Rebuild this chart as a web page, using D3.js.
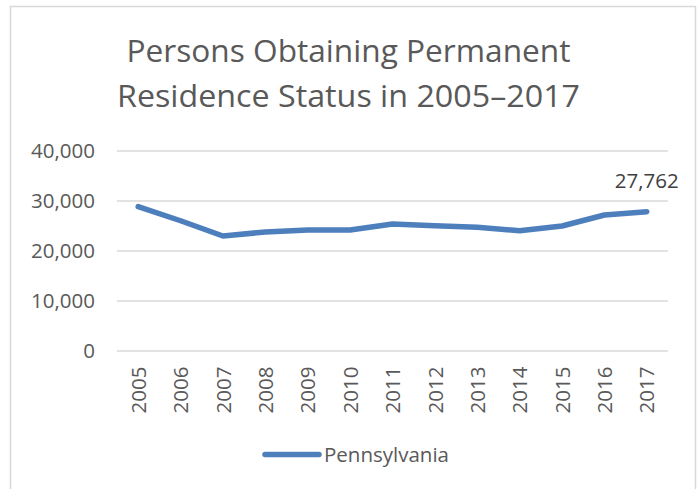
<!DOCTYPE html>
<html>
<head>
<meta charset="utf-8">
<script src="https://cdn.jsdelivr.net/npm/d3@7"></script>
<style>
  body { margin: 0; background: #fff; }
  svg { display: block; font-family: "Open Sans", "Noto Sans", sans-serif; }
</style>
</head>
<body>
<svg></svg>
<script>
const years = ["2005", "2006", "2007", "2008", "2009", "2010", "2011", "2012", "2013", "2014", "2015", "2016", "2017"];
const pennsylvania = [28760, 25950, 22900, 23700, 24100, 24100, 25300, 24950, 24650, 23950, 24900, 27100, 27762];
const yTicks = [0, 10000, 20000, 30000, 40000];
const titleLines = ["Persons Obtaining Permanent", "Residence Status in 2005\u20132017"];
const seriesName = "Pennsylvania";

const width = 697;
const height = 489;
const plot = { left: 117, right: 668, top: 150.5, bottom: 350.5 };
const lineColor = "#4e7fbd";
const textColor = "#595959";

const svg = d3.select("svg")
    .attr("width", width)
    .attr("height", height);

// chart frame (bottom edge falls outside the picture)
svg.append("rect")
    .attr("x", 10.5)
    .attr("y", 6.5)
    .attr("width", 685)
    .attr("height", 500)
    .attr("fill", "#fff")
    .attr("stroke", "#d9d9d9")
    .attr("stroke-width", 1.5);

// title, two lines
const titleWidths = [444, 463];
const titleBase = [61.5, 107];
titleLines.forEach((t, i) => {
    svg.append("text")
        .attr("x", width / 2)
        .attr("y", titleBase[i])
        .attr("text-anchor", "middle")
        .attr("fill", textColor)
        .style("font-size", "31px")
        .attr("textLength", titleWidths[i])
        .attr("lengthAdjust", "spacingAndGlyphs")
        .text(t);
});

const xScale = d3.scalePoint()
    .domain(years)
    .range([plot.left, plot.right])
    .padding(0.5);

const yScale = d3.scaleLinear()
    .domain([0, 40000])
    .range([plot.bottom, plot.top]);

// gridlines + y labels
const yAxis = d3.axisLeft(yScale)
    .tickValues(yTicks)
    .tickSize(-(plot.right - plot.left))
    .tickPadding(22)
    .tickFormat(d3.format(","));

const gy = svg.append("g")
    .attr("transform", `translate(${plot.left}, 0)`)
    .call(yAxis);
gy.select(".domain").remove();
gy.selectAll(".tick line").attr("stroke", "#d9d9d9").attr("stroke-width", 1.3);
gy.selectAll(".tick text")
    .attr("fill", textColor)
    .style("font-size", "20.5px")
    .style("font-family", "Open Sans, sans-serif");

// x axis labels, rotated
const xAxis = d3.axisBottom(xScale).tickSize(0).tickPadding(0);
const gx = svg.append("g")
    .attr("transform", `translate(0, ${plot.bottom})`)
    .call(xAxis);
gx.select(".domain").remove();
gx.selectAll(".tick text")
    .attr("fill", textColor)
    .style("font-size", "20.5px")
    .style("font-family", "Open Sans, sans-serif")
    .attr("text-anchor", "end")
    .attr("transform", "rotate(-90)")
    .attr("x", -16)
    .attr("y", 0)
    .attr("dy", "0.35em");

// the series line
const line = d3.line()
    .x((d, i) => xScale(years[i]))
    .y(d => yScale(d));

svg.append("path")
    .datum(pennsylvania)
    .attr("d", line)
    .attr("fill", "none")
    .attr("stroke", lineColor)
    .attr("stroke-width", 5.5)
    .attr("stroke-linejoin", "round")
    .attr("stroke-linecap", "round");

// label on last point
const last = pennsylvania.length - 1;
svg.append("text")
    .attr("x", xScale(years[last]))
    .attr("y", yScale(pennsylvania[last]) - 24)
    .attr("text-anchor", "middle")
    .attr("fill", "#404040")
    .style("font-size", "20.5px")
    .text(d3.format(",")(pennsylvania[last]));

// legend
const legend = svg.append("g").attr("transform", "translate(265, 454.5)");
legend.append("line")
    .attr("x1", 0).attr("x2", 54)
    .attr("y1", 0).attr("y2", 0)
    .attr("stroke", lineColor)
    .attr("stroke-width", 5.5)
    .attr("stroke-linecap", "round");
legend.append("text")
    .attr("x", 59)
    .attr("y", 7)
    .attr("fill", textColor)
    .style("font-size", "20.5px")
    .text(seriesName);
</script>
</body>
</html>
